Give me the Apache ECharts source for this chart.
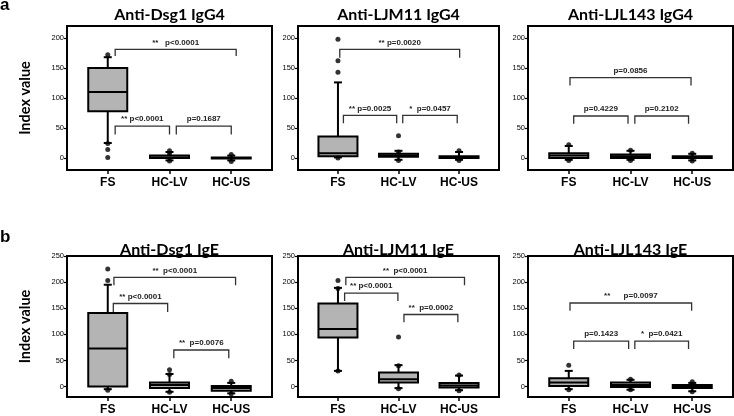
<!DOCTYPE html>
<html><head><meta charset="utf-8">
<script src="https://cdn.jsdelivr.net/npm/echarts@6/dist/echarts.min.js"></script>
<style>html,body{margin:0;padding:0;background:#fff}#c{width:734px;height:416px}</style>
</head><body><div id="c"></div>
<script>
// ---------- DATA ----------
const categories = ['FS', 'HC-LV', 'HC-US'];
const panelTitles = ['Anti-Dsg1 IgG4', 'Anti-LJM11 IgG4', 'Anti-LJL143 IgG4',
                     'Anti-Dsg1 IgE', 'Anti-LJM11 IgE', 'Anti-LJL143 IgE'];
const rowLetters = ['a', 'b'];
const yTicksIgG4 = [0, 50, 100, 150, 200];
const yTicksIgE = [0, 50, 100, 150, 200, 250];
const yRangeIgG4 = [-20, 220];
const yRangeIgE = [-20, 250];

// box statistics per category: [min, Q1, median, Q3, max]
const dsg1IgG4Box   = [[25, 78, 110, 150, 168], [-4, 0, 1, 4, 10], [-4, -1, 0, 1, 4]];
const ljm11IgG4Box  = [[1, 3, 8, 36, 126], [-3, 2, 4, 7, 12], [-3, 0, 1, 3, 10]];
const ljl143IgG4Box = [[-3, 0, 4, 8, 20], [-3, 0, 3, 6, 12], [-4, 0, 1, 3, 7]];
const dsg1IgEBox    = [[-5, 0, 73, 141, 195], [-10, -3, 3, 8, 24], [-13, -8, -3, 1, 7]];
const ljm11IgEBox   = [[30, 94, 110, 159, 189], [-3, 8, 14, 27, 41], [-7, -2, 2, 7, 21]];
const ljl143IgEBox  = [[-5, 1, 8, 16, 30], [-6, -1, 3, 8, 13], [-9, -3, 0, 3, 7]];

// individual points drawn as dots: [category number, value]
const dsg1IgG4Pts   = [[1, 172], [1, 24], [1, 14], [1, 1], [2, 12], [2, 7], [2, -5], [3, 6], [3, -6]];
const ljm11IgG4Pts  = [[1, 198], [1, 162], [1, 143], [1, 0], [2, 37], [2, 10], [2, -4], [3, 12], [3, -4]];
const ljl143IgG4Pts = [[1, 22], [1, -4], [2, 13], [2, -4], [3, 8], [3, -5]];
const dsg1IgEPts    = [[1, 225], [1, 203], [1, -7], [2, 32], [2, 23], [2, -11], [3, 10], [3, -14]];
const ljm11IgEPts   = [[1, 203], [1, 188], [1, 30], [2, 95], [2, 40], [2, -4], [3, 22], [3, -8]];
const ljl143IgEPts  = [[1, 41], [1, -6], [2, 14], [2, -6], [3, 9], [3, -10]];

// comparisons: [from, to, bracket level, bracket leg end, label]
const dsg1IgG4Tests   = [[1.12, 3.08, 181, 170, '**   p<0.0001'], [1.12, 2.0, 53, 39, '** p<0.0001'], [2.11, 3.0, 53, 39, 'p=0.1687']];
const ljm11IgG4Tests  = [[1.03, 3.01, 181, 167, '** p=0.0020'], [1.09, 1.97, 71, 58, '** p=0.0025'], [2.07, 2.97, 71, 58, '*  p=0.0457']];
const ljl143IgG4Tests = [[1.02, 2.98, 134, 121, 'p=0.0856'], [1.08, 1.96, 70, 57, 'p=0.4229'], [2.07, 2.94, 70, 57, 'p=0.2102']];
const dsg1IgETests    = [[1.1, 3.07, 209, 194, '**  p<0.0001'], [1.09, 1.97, 159, 143, '** p<0.0001'], [2.07, 2.96, 70, 54, '**  p=0.0076']];
const ljm11IgETests   = [[1.13, 3.09, 209, 194, '**  p<0.0001'], [1.11, 1.99, 179, 164, '** p<0.0001'], [2.09, 2.98, 138, 123, '**  p=0.0002']];
const ljl143IgETests  = [[1.02, 2.99, 160, 145, '**      p=0.0097'], [1.08, 1.97, 87, 72, 'p=0.1423'], [2.07, 2.94, 87, 72, '*  p=0.0421']];

const panelBoxes = [dsg1IgG4Box, ljm11IgG4Box, ljl143IgG4Box, dsg1IgEBox, ljm11IgEBox, ljl143IgEBox];
const panelPts = [dsg1IgG4Pts, ljm11IgG4Pts, ljl143IgG4Pts, dsg1IgEPts, ljm11IgEPts, ljl143IgEPts];
const panelTests = [dsg1IgG4Tests, ljm11IgG4Tests, ljl143IgG4Tests, dsg1IgETests, ljm11IgETests, ljl143IgETests];

// ---------- LAYOUT ----------
const colLeft = [67, 298, 528];
const colWidth = [205, 201, 205];
const rowTop = [26, 256];
const rowHeight = [144, 143];
const titleY = [14.5, 249.5];
const letterBaseline = [14, 246];

const chart = echarts.init(document.getElementById('c'), null, { renderer: 'canvas' });

const grids = [], xAxes = [], yAxes = [], series = [], graphics = [];

function boxRenderer(params, api) {
  const x = api.value(0);
  const pMin = api.coord([x, api.value(1)]);
  const pQ1 = api.coord([x, api.value(2)]);
  const pMd = api.coord([x, api.value(3)]);
  const pQ3 = api.coord([x, api.value(4)]);
  const pMax = api.coord([x, api.value(5)]);
  const cx = pMd[0], hw = 19.5, cw = 4;
  const st = { stroke: '#000', lineWidth: 2 };
  return {
    type: 'group',
    children: [
      { type: 'line', shape: { x1: cx, y1: pQ3[1], x2: cx, y2: pMax[1] }, style: st },
      { type: 'line', shape: { x1: cx, y1: pQ1[1], x2: cx, y2: pMin[1] }, style: st },
      { type: 'line', shape: { x1: cx - cw, y1: pMax[1], x2: cx + cw, y2: pMax[1] }, style: st },
      { type: 'line', shape: { x1: cx - cw, y1: pMin[1], x2: cx + cw, y2: pMin[1] }, style: st },
      { type: 'rect', shape: { x: cx - hw, y: pQ3[1], width: hw * 2, height: pQ1[1] - pQ3[1] },
        style: { fill: '#b4b4b4', stroke: '#000', lineWidth: 2 } },
      { type: 'line', shape: { x1: cx - hw, y1: pMd[1], x2: cx + hw, y2: pMd[1] }, style: st }
    ]
  };
}

function makeBracketRenderer(tests) {
  return function (params, api) {
    const x0 = api.value(0), x1 = api.value(1), y = api.value(2), ye = api.value(3);
    const a = api.coord([x0, ye]), b = api.coord([x0, y]), c = api.coord([x1, y]), d = api.coord([x1, ye]);
    return {
      type: 'group',
      children: [
        { type: 'polyline', shape: { points: [a, b, c, d] }, style: { stroke: '#333', lineWidth: 1.3, fill: null } },
        { type: 'text', x: (b[0] + c[0]) / 2, y: b[1] - 3,
          style: { text: tests[params.dataIndex][4], textAlign: 'center', textVerticalAlign: 'bottom',
                   font: 'bold 8px "Liberation Sans", Arial, sans-serif', fill: '#222' } }
      ]
    };
  };
}

for (let p = 0; p < 6; p++) {
  const row = Math.floor(p / 3), col = p % 3;
  const yTicks = row === 0 ? yTicksIgG4 : yTicksIgE;
  const yRange = row === 0 ? yRangeIgG4 : yRangeIgE;
  grids.push({ left: colLeft[col], top: rowTop[row], width: colWidth[col], height: rowHeight[row],
               show: true, borderColor: '#000', borderWidth: 2, backgroundColor: 'transparent', containLabel: false });
  xAxes.push({
    gridIndex: p, type: 'value', min: 0.34, max: 3.66,
    splitLine: { show: false },
    axisLine: { show: false, onZero: false },
    axisTick: { show: true, customValues: [1, 2, 3], length: 4, lineStyle: { color: '#000', width: 1.5 } },
    axisLabel: { customValues: [1, 2, 3], formatter: v => categories[Math.round(v) - 1] || '',
                 fontFamily: '"Liberation Sans", Arial, sans-serif', fontWeight: 'bold', fontSize: 12,
                 color: '#000', margin: 7 }
  });
  yAxes.push({
    gridIndex: p, type: 'value', min: yRange[0], max: yRange[1],
    splitLine: { show: false },
    axisLine: { show: false, onZero: false },
    axisTick: { show: true, customValues: yTicks, length: 3, lineStyle: { color: '#000', width: 1.2 } },
    axisLabel: { customValues: yTicks, fontFamily: '"Liberation Sans", Arial, sans-serif', fontSize: 7.5,
                 color: '#000', margin: 3 },
    name: col === 0 ? 'Index value' : '', nameLocation: 'middle', nameRotate: 90, nameGap: 34,
    nameTextStyle: { fontFamily: 'Lato, sans-serif', fontWeight: 'bold', fontSize: 14.5, color: '#000' }
  });
  series.push({
    type: 'custom', xAxisIndex: p, yAxisIndex: p, renderItem: boxRenderer,
    encode: { x: 0, y: [1, 2, 3, 4, 5] }, silent: true, z: 2,
    data: panelBoxes[p].map((b, i) => [i + 1].concat(b))
  });
  series.push({
    type: 'scatter', xAxisIndex: p, yAxisIndex: p, symbol: 'circle', symbolSize: 5,
    itemStyle: { color: '#000' }, silent: true, z: 3,
    data: panelPts[p]
  });
  series.push({
    type: 'custom', xAxisIndex: p, yAxisIndex: p, renderItem: makeBracketRenderer(panelTests[p]),
    encode: { x: [0, 1], y: [2, 3] }, silent: true, z: 4,
    data: panelTests[p].map(t => [t[0], t[1], t[2], t[3]])
  });
  graphics.push({ type: 'text', x: colLeft[col] + colWidth[col] / 2, y: titleY[row], z: 10,
    style: { text: panelTitles[p], textAlign: 'center', textVerticalAlign: 'middle',
             font: 'bold 16px Lato, sans-serif', fill: '#000' } });
}
rowLetters.forEach((L, r) => {
  graphics.push({ type: 'text', x: 0, y: letterBaseline[r],
    style: { text: L, textAlign: 'left', textVerticalAlign: 'bottom',
             font: 'bold 17px "Liberation Sans", Arial, sans-serif', fill: '#000' } });
});

chart.setOption({
  animation: false,
  backgroundColor: '#fff',
  grid: grids, xAxis: xAxes, yAxis: yAxes, series: series,
  graphic: { elements: graphics }
});
</script>
</body></html>
